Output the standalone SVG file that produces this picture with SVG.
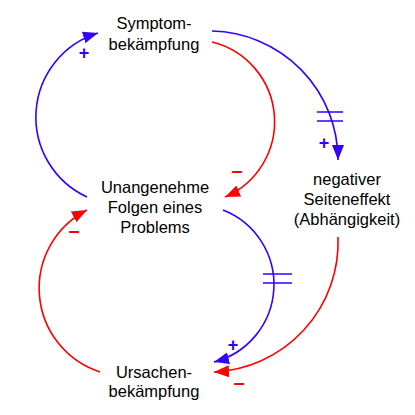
<svg xmlns="http://www.w3.org/2000/svg" width="415" height="415" viewBox="0 0 415 415">
<style>
.t{font-family:"Liberation Sans",Arial,sans-serif;font-size:16.5px;fill:#000;text-anchor:middle}
.b{fill:none;stroke:#3300ff;stroke-width:1.6}
.r{fill:none;stroke:#ff0000;stroke-width:1.6}
.lb{font-family:"Liberation Sans",Arial,sans-serif;font-size:18px;font-weight:bold;fill:#3300ff;text-anchor:middle}
.lr{font-family:"Liberation Sans",Arial,sans-serif;font-size:20px;font-weight:bold;fill:#ff0000;text-anchor:middle}
</style>
<defs>
<marker id="ab" markerUnits="userSpaceOnUse" markerWidth="16" markerHeight="12" refX="15" refY="6" orient="auto"><path d="M0,0 L15,6 L0,12 z" fill="#3300ff"/></marker>
<marker id="ar" markerUnits="userSpaceOnUse" markerWidth="16" markerHeight="12" refX="15" refY="6" orient="auto"><path d="M0,0 L15,6 L0,12 z" fill="#ff0000"/></marker>
</defs>
<rect width="415" height="415" fill="#fff"/>
<g id="connectors">
<path class="b" d="M 87 197 A 88 88 0 0 1 98 33" marker-end="url(#ab)"/>
<path class="r" d="M 212 42 A 82 82 0 0 1 225 197" marker-end="url(#ar)"/>
<path class="b" d="M 212 31 A 129 129 0 0 1 338 160" marker-end="url(#ab)"/>
<path class="b" d="M 223 210 A 80 80 0 0 1 214 362" marker-end="url(#ab)"/>
<path class="r" d="M 338 237 A 130 130 0 0 1 214 372" marker-end="url(#ar)"/>
<path class="r" d="M 100 372 A 88 88 0 0 1 87 210" marker-end="url(#ar)"/>
<path class="b" d="M 317 112 H 343 M 317 121 H 343"/>
<path class="b" d="M 263 274 H 292 M 263 283 H 292"/>
<text class="lb" x="84" y="59">+</text>
<text class="lr" x="237" y="177">–</text>
<text class="lb" x="324" y="149">+</text>
<text class="lb" x="233" y="351">+</text>
<text class="lr" x="239" y="389">–</text>
<text class="lr" x="74" y="237">–</text>
</g>
<g id="symptom"><text class="t" x="154" y="29">Symptom-</text><text class="t" x="154" y="50">bekämpfung</text></g>
<g id="folgen"><text class="t" x="155" y="193">Unangenehme</text><text class="t" x="155" y="213">Folgen eines</text><text class="t" x="155" y="233">Problems</text></g>
<g id="seiteneffekt"><text class="t" x="347" y="185">negativer</text><text class="t" x="347" y="205">Seiteneffekt</text><text class="t" x="347" y="225">(Abhängigkeit)</text></g>
<g id="ursachen"><text class="t" x="154" y="378">Ursachen-</text><text class="t" x="154" y="397">bekämpfung</text></g>
</svg>
